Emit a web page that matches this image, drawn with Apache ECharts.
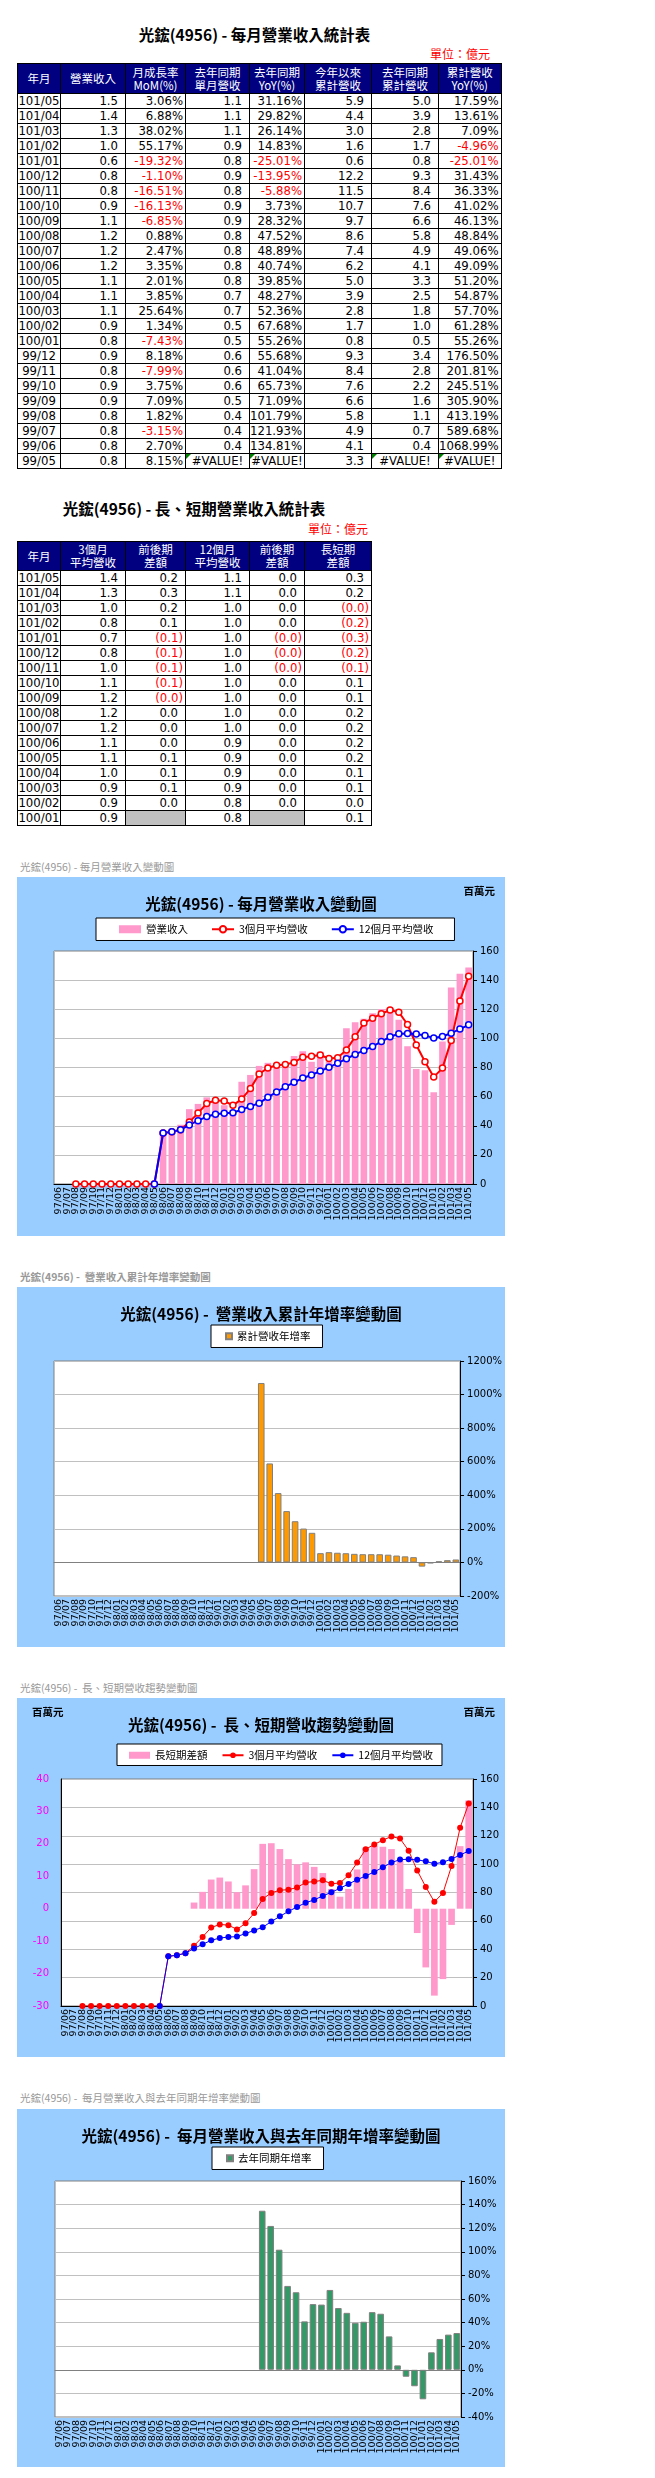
<!DOCTYPE html>
<html>
<head>
<meta charset="utf-8">
<script src="https://cdn.jsdelivr.net/npm/echarts@6/dist/echarts.min.js"></script>
<style>
body { margin: 0; width: 655px; height: 2478px; position: relative; background: #fff; font-family: "Noto Sans CJK TC", sans-serif; }
.ttl { position: absolute; font-weight: bold; font-size: 15.5px; line-height: 20px; text-align: center; color: #000; }
.unit { position: absolute; color: #f00; font-size: 12px; line-height: 14px; text-align: right; width: 100px; }
.cap { position: absolute; left: 20px; font-size: 10.5px; line-height: 14px; color: #999; white-space: pre; }
.chart { position: absolute; left: 17px; width: 488px; background: #99CCFF; }
table.tb { position: absolute; left: 17px; border-collapse: collapse; table-layout: fixed; }
table.tb th { background: #000080; color: #fff; font-weight: normal; font-size: 11.5px; line-height: 13px; border: 1px solid #000; padding: 0; text-align: center; }
table.tb td { border: 1px solid #000; padding: 0 7px 0 0; height: 14px; line-height: 14px; font-size: 13px; text-align: right; white-space: nowrap; overflow: hidden;
  font-family: "Liberation Sans Narrow", "DejaVu Sans Condensed", sans-serif; }
table.tb td.ym { text-align: center; padding: 0; }
table.tb td.pct { padding-right: 2px; }
table.tb td.neg { color: #f00; }
table.tb td.par { padding-right: 2px; }
table.tb td.err { text-align: center; padding: 0; position: relative; }
table.tb td.err::before { content: ""; position: absolute; left: 0; top: 0; border-top: 5px solid #008000; border-right: 5px solid transparent; }
table.tb td.gray { background: #C0C0C0; }
</style>
</head>
<body>

<div class="ttl" style="left:17px;width:475px;top:24px;">光鋐(4956) - 每月營業收入統計表</div>
<div class="unit" style="left:390px;top:47px;">單位：億元</div>
<table class="tb" id="t1"></table>

<div class="ttl" style="left:17px;width:354px;top:498px;">光鋐(4956) - 長、短期營業收入統計表</div>
<div class="unit" style="left:268px;top:522px;">單位：億元</div>
<table class="tb" id="t2" style="top:541px;"></table>

<div class="cap" style="top:860px;">光鋐(4956) - 每月營業收入變動圖</div>
<div class="chart" id="c1" style="top:877px;height:359px;"></div>

<div class="cap" style="top:1270px;font-weight:bold;">光鋐(4956) -  營業收入累計年增率變動圖</div>
<div class="chart" id="c2" style="top:1287px;height:360px;"></div>

<div class="cap" style="top:1681px;">光鋐(4956) -  長、短期營收趨勢變動圖</div>
<div class="chart" id="c3" style="top:1698px;height:359px;"></div>

<div class="cap" style="top:2091px;">光鋐(4956) -  每月營業收入與去年同期年增率變動圖</div>
<div class="chart" id="c4" style="top:2109px;height:358px;"></div>

<script>
// ---- 每月營業收入統計表 (億元) ----
var t1Month = ["101/05","101/04","101/03","101/02","101/01","100/12","100/11","100/10","100/09","100/08","100/07","100/06","100/05","100/04","100/03","100/02","100/01","99/12","99/11","99/10","99/09","99/08","99/07","99/06","99/05"];
var t1Rev = [1.5,1.4,1.3,1.0,0.6,0.8,0.8,0.9,1.1,1.2,1.2,1.2,1.1,1.1,1.1,0.9,0.8,0.9,0.8,0.9,0.9,0.8,0.8,0.8,0.8];
var t1Mom = [3.06,6.88,38.02,55.17,-19.32,-1.10,-16.51,-16.13,-6.85,0.88,2.47,3.35,2.01,3.85,25.64,1.34,-7.43,8.18,-7.99,3.75,7.09,1.82,-3.15,2.70,8.15];
var t1LyRev = [1.1,1.1,1.1,0.9,0.8,0.9,0.8,0.9,0.9,0.8,0.8,0.8,0.8,0.7,0.7,0.5,0.5,0.6,0.6,0.6,0.5,0.4,0.4,0.4,null];
var t1Yoy = [31.16,29.82,26.14,14.83,-25.01,-13.95,-5.88,3.73,28.32,47.52,48.89,40.74,39.85,48.27,52.36,67.68,55.26,55.68,41.04,65.73,71.09,101.79,121.93,134.81,null];
var t1Ytd = [5.9,4.4,3.0,1.6,0.6,12.2,11.5,10.7,9.7,8.6,7.4,6.2,5.0,3.9,2.8,1.7,0.8,9.3,8.4,7.6,6.6,5.8,4.9,4.1,3.3];
var t1LyYtd = [5.0,3.9,2.8,1.7,0.8,9.3,8.4,7.6,6.6,5.8,4.9,4.1,3.3,2.5,1.8,1.0,0.5,3.4,2.8,2.2,1.6,1.1,0.7,0.4,null];
var t1YtdYoy = [17.59,13.61,7.09,-4.96,-25.01,31.43,36.33,41.02,46.13,48.84,49.06,49.09,51.20,54.87,57.70,61.28,55.26,176.50,201.81,245.51,305.90,413.19,589.68,1068.99,null];

// ---- 長、短期營業收入統計表 (億元) ----
var t2Month = ["101/05","101/04","101/03","101/02","101/01","100/12","100/11","100/10","100/09","100/08","100/07","100/06","100/05","100/04","100/03","100/02","100/01"];
var t2Avg3 = ["1.4","1.3","1.0","0.8","0.7","0.8","1.0","1.1","1.2","1.2","1.2","1.1","1.1","1.0","0.9","0.9","0.9"];
var t2Avg3Diff = ["0.2","0.3","0.2","0.1","(0.1)","(0.1)","(0.1)","(0.1)","(0.0)","0.0","0.0","0.0","0.1","0.1","0.1","0.0",null];
var t2Avg12 = ["1.1","1.1","1.0","1.0","1.0","1.0","1.0","1.0","1.0","1.0","1.0","0.9","0.9","0.9","0.9","0.8","0.8"];
var t2Avg12Diff = ["0.0","0.0","0.0","0.0","(0.0)","(0.0)","(0.0)","0.0","0.0","0.0","0.0","0.0","0.0","0.0","0.0","0.0",null];
var t2LongShort = ["0.3","0.2","(0.0)","(0.2)","(0.3)","(0.2)","(0.1)","0.1","0.1","0.2","0.2","0.2","0.2","0.1","0.1","0.0","0.1"];

// ---- charts (百萬元) ----
var cats = ["97/06","97/07","97/08","97/09","97/10","97/11","97/12",
  "98/01","98/02","98/03","98/04","98/05","98/06","98/07","98/08","98/09","98/10","98/11","98/12",
  "99/01","99/02","99/03","99/04","99/05","99/06","99/07","99/08","99/09","99/10","99/11","99/12",
  "100/01","100/02","100/03","100/04","100/05","100/06","100/07","100/08","100/09","100/10","100/11","100/12",
  "101/01","101/02","101/03","101/04","101/05"];
var revenue = [null,null,null,null,null,null,null,null,null,null,null,null,
  35.4,36.3,40.7,51.4,55.0,59.5,58.3,
  54.1,50.8,70.2,74.9,81.1,83.2,80.6,82.1,87.9,91.2,83.9,90.8,
  84.0,85.2,107.0,111.1,113.4,117.2,120.1,121.1,112.8,94.6,79.0,78.1,
  63.0,97.8,135.0,144.3,148.7];
var avg3 = [null,null,0,0,0,0,0,0,0,0,0,0,
  35.0,35.8,37.2,42.5,48.7,55.3,57.5,
  57.0,54.0,58.3,65.5,75.5,79.7,81.6,82.0,83.5,87.1,87.7,88.6,
  86.2,86.7,92.1,101.1,110.5,113.9,116.9,119.5,118.0,109.5,95.5,83.9,
  73.4,79.6,98.6,125.7,142.7];
var avg12 = [null,null,null,null,null,null,null,null,null,null,null,0,
  35.0,35.8,37.2,40.6,43.5,46.3,47.9,
  48.6,48.9,51.1,53.3,55.5,59.5,63.2,66.7,69.8,72.8,74.8,77.6,
  80.1,83.0,86.0,89.0,91.7,94.5,97.8,101.1,103.2,103.4,103.0,102.0,
  100.2,101.3,103.6,106.4,109.3];
var longShortDiff = [null,null,null,null,null,null,null,null,null,null,null,0,
  0,0,0,1.9,5.2,9.0,9.6,
  8.4,5.1,7.2,12.2,20.0,20.2,18.4,15.3,13.7,14.3,12.9,11.0,
  6.1,3.7,6.1,12.1,18.8,19.4,19.1,18.4,14.8,6.1,-7.5,-18.1,
  -26.8,-21.7,-5.0,19.3,33.4];

var CJK = '"Noto Sans CJK TC", sans-serif';
var NUM = '"DejaVu Sans", sans-serif';

function f1(v) { return v.toFixed(1); }
function fp(v) { return v.toFixed(2) + "%"; }

function fillTable(el, widths, headHtml, rows) {
  var h = "<colgroup>" + widths.map(function (w) { return '<col style="width:' + w + 'px">'; }).join("") + "</colgroup>";
  h += '<tr style="height:' + headHtml.h + 'px">' + headHtml.cells.map(function (c) { return "<th>" + c + "</th>"; }).join("") + "</tr>";
  rows.forEach(function (r) {
    h += '<tr style="height:15px">' + r.map(function (c) {
      return '<td class="' + c.cls + '">' + c.t + "</td>";
    }).join("") + "</tr>";
  });
  el.innerHTML = h;
}

function numCell(v, fmt, pct) {
  if (v === null) return { t: "#VALUE!", cls: "err" };
  var cls = pct ? "pct" : "";
  if (v < 0) cls += " neg";
  return { t: fmt(v), cls: cls };
}
function strCell(s) {
  if (s === null) return { t: "", cls: "gray" };
  if (s.charAt(0) === "(") return { t: s, cls: "neg par" };
  return { t: s, cls: "" };
}

var t1 = document.getElementById("t1");
t1.style.top = "63px";
fillTable(t1, [43, 65, 60, 64, 55, 67, 67, 54],
  { h: 30, cells: ["年月", "營業收入", "月成長率<br>MoM(%)", "去年同期<br>單月營收", "去年同期<br>YoY(%)", "今年以來<br>累計營收", "去年同期<br>累計營收", "累計營收<br>YoY(%)"] },
  t1Month.map(function (m, i) {
    return [{ t: m, cls: "ym" }, numCell(t1Rev[i], f1), numCell(t1Mom[i], fp, true), numCell(t1LyRev[i], f1),
      numCell(t1Yoy[i], fp, true), numCell(t1Ytd[i], f1), numCell(t1LyYtd[i], f1), numCell(t1YtdYoy[i], fp, true)];
  }));

fillTable(document.getElementById("t2"), [43, 65, 60, 64, 55, 67],
  { h: 29, cells: ["年月", "3個月<br>平均營收", "前後期<br>差額", "12個月<br>平均營收", "前後期<br>差額", "長短期<br>差額"] },
  t2Month.map(function (m, i) {
    return [{ t: m, cls: "ym" }, strCell(t2Avg3[i]), strCell(t2Avg3Diff[i]), strCell(t2Avg12[i]), strCell(t2Avg12Diff[i]), strCell(t2LongShort[i])];
  }));

// table percentages placed on the chart categories by month
function byMonth(months, vals) {
  return cats.map(function (c) {
    var k = months.indexOf(c);
    return k < 0 ? null : vals[k];
  });
}
var ytdYoySeries = byMonth(t1Month, t1YtdYoy);
var yoySeries = byMonth(t1Month, t1Yoy);

function titleOpt(text) {
  return { text: text, left: "center", top: 14, textStyle: { fontSize: 15.5, fontWeight: "bold", color: "#000", fontFamily: CJK } };
}
function unitText(pos) {
  var g = { type: "text", top: 9, style: { text: "百萬元", font: 'bold 10.5px "Noto Sans CJK TC"', fill: "#000" } };
  for (var k in pos) g[k] = pos[k];
  return g;
}
function catAxisLabels() {
  return { rotate: 90, interval: 0, fontSize: 9.5, fontFamily: NUM, color: "#000", margin: 3 };
}
function legendBox(left, top, pad, gap, data, iw, ih) {
  return { left: left, top: top, padding: pad, itemGap: gap, itemWidth: iw, itemHeight: ih,
    backgroundColor: "#fff", borderColor: "#000", borderWidth: 1, borderRadius: 0,
    textStyle: { fontSize: 10.5, color: "#000", fontFamily: CJK }, data: data };
}
function valAxis(min, max, step, pct) {
  return { type: "value", position: "right", min: min, max: max, interval: step,
    axisLine: { show: true, lineStyle: { color: "#000" } },
    axisTick: { show: true, length: 4, lineStyle: { color: "#000" } },
    splitLine: { show: true, lineStyle: { color: "#C0C0C0" } },
    axisLabel: { fontSize: 10, color: "#000", fontFamily: NUM, margin: 7,
      formatter: function (v) { return pct ? v + "%" : String(v); } } };
}

// ---- 每月營業收入變動圖 ----
var ch1 = echarts.init(document.getElementById("c1"));
ch1.setOption({
  animation: false,
  backgroundColor: "#99CCFF",
  textStyle: { fontFamily: CJK },
  title: titleOpt("光鋐(4956) - 每月營業收入變動圖"),
  graphic: [unitText({ right: 10 })],
  legend: legendBox(79, 41, [6, 21, 6, 23], 23, [{ name: "營業收入", icon: "rect" }, "3個月平均營收", "12個月平均營收"], 22, 8),
  grid: { left: 37, top: 74, width: 419, height: 233, show: true, backgroundColor: "#fff", borderColor: "#808080", borderWidth: 1 },
  xAxis: { type: "category", data: cats,
    axisLine: { lineStyle: { color: "#000" } },
    axisTick: { inside: true, length: 3, lineStyle: { color: "#000" } },
    axisLabel: catAxisLabels() },
  yAxis: valAxis(0, 160, 20, false),
  series: [
    { name: "營業收入", type: "bar", data: revenue, barCategoryGap: "24%", itemStyle: { color: "#FF99CC" } },
    { name: "3個月平均營收", type: "line", data: avg3, symbol: "circle", symbolSize: 6,
      lineStyle: { color: "#FF0000", width: 2 }, itemStyle: { color: "#fff", borderColor: "#FF0000", borderWidth: 1.5 } },
    { name: "12個月平均營收", type: "line", data: avg12, symbol: "circle", symbolSize: 6,
      lineStyle: { color: "#0000FF", width: 2 }, itemStyle: { color: "#fff", borderColor: "#0000FF", borderWidth: 1.5 } }
  ]
});

// percent bar charts share the same frame
function pctChart(id, title, name, data, color, min, max, step, legendLeft, grid) {
  var ch = echarts.init(document.getElementById(id));
  ch.setOption({
    animation: false,
    backgroundColor: "#99CCFF",
    textStyle: { fontFamily: CJK },
    title: titleOpt(title),
    legend: legendBox(legendLeft, 38, [6, 12, 6, 14], 5, [{ name: name, icon: "rect" }], 6, 6),
    grid: { left: grid[0], top: grid[1], width: grid[2], height: grid[3], show: true, backgroundColor: "#fff", borderColor: "#808080", borderWidth: 1 },
    xAxis: [
      { type: "category", data: cats, position: "bottom", axisLine: { show: false, onZero: false }, axisTick: { show: false }, axisLabel: catAxisLabels() },
      { type: "category", data: cats, position: "bottom", axisLine: { show: true, onZero: true, lineStyle: { color: "#808080" } },
        axisTick: { inside: true, length: 3, lineStyle: { color: "#808080" } }, axisLabel: { show: false } }
    ],
    yAxis: valAxis(min, max, step, true),
    series: [
      { name: name, type: "bar", xAxisIndex: 0, data: data, barCategoryGap: "22%", itemStyle: { color: color, borderColor: "#808080", borderWidth: 1 } }
    ]
  });
}

// ---- 營業收入累計年增率變動圖 ----
pctChart("c2", "光鋐(4956) -  營業收入累計年增率變動圖", "累計營收年增率", ytdYoySeries, "#FF9900", -200, 1200, 200, 194, [37, 74, 407, 235]);

// ---- 長、短期營收趨勢變動圖 ----
var ch3 = echarts.init(document.getElementById("c3"));
ch3.setOption({
  animation: false,
  backgroundColor: "#99CCFF",
  textStyle: { fontFamily: CJK },
  title: titleOpt("光鋐(4956) -  長、短期營收趨勢變動圖"),
  graphic: [unitText({ left: 15 }), unitText({ right: 10 })],
  legend: legendBox(100, 46, [6, 9, 5, 12], 14, [{ name: "長短期差額", icon: "rect" }, "3個月平均營收", "12個月平均營收"], 21, 7),
  grid: { left: 44, top: 81, width: 412, height: 227, show: true, backgroundColor: "#fff", borderColor: "#808080", borderWidth: 1 },
  xAxis: { type: "category", data: cats,
    axisLine: { onZero: false, lineStyle: { color: "#000" } },
    axisTick: { inside: true, length: 3, lineStyle: { color: "#000" } },
    axisLabel: catAxisLabels() },
  yAxis: [
    { type: "value", position: "left", min: -30, max: 40, interval: 10,
      axisLine: { show: true, lineStyle: { color: "#000" } }, axisTick: { show: false }, splitLine: { show: false },
      axisLabel: { fontSize: 10, color: "#FF00FF", fontFamily: NUM, margin: 12 } },
    valAxis(0, 160, 20, false)
  ],
  series: [
    { name: "長短期差額", type: "bar", yAxisIndex: 0, data: longShortDiff, barCategoryGap: "22%", itemStyle: { color: "#FF99CC" } },
    { name: "3個月平均營收", type: "line", yAxisIndex: 1, data: avg3, symbol: "circle", symbolSize: 6,
      lineStyle: { color: "#FF0000", width: 1 }, itemStyle: { color: "#FF0000" } },
    { name: "12個月平均營收", type: "line", yAxisIndex: 1, data: avg12, symbol: "circle", symbolSize: 6,
      lineStyle: { color: "#0000FF", width: 1 }, itemStyle: { color: "#0000FF" } }
  ]
});

// ---- 每月營業收入與去年同期年增率變動圖 ----
pctChart("c4", "光鋐(4956) -  每月營業收入與去年同期年增率變動圖", "去年同期年增率", yoySeries, "#339966", -40, 160, 20, 195, [38, 72, 406, 236]);
</script>
</body>
</html>
